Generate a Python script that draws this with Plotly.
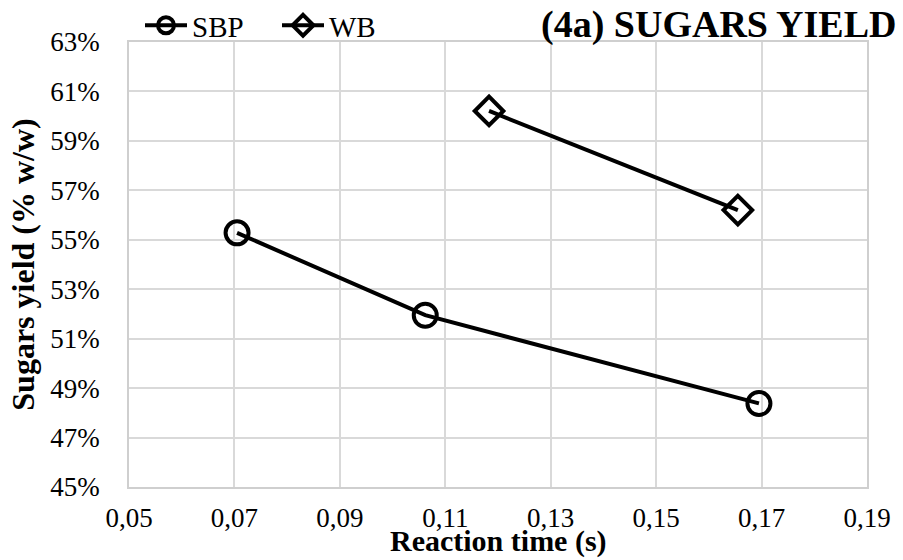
import plotly.graph_objects as go

# Reaction time (s) and sugars yield (fraction w/w) for each feedstock
sbp_time = [0.0705, 0.1062, 0.1695]
sbp_yield = [0.5528, 0.5195, 0.4838]
wb_time = [0.1183, 0.1655]
wb_yield = [0.6021, 0.5620]

x_ticks = [0.05, 0.07, 0.09, 0.11, 0.13, 0.15, 0.17, 0.19]
y_ticks = [0.45, 0.47, 0.49, 0.51, 0.53, 0.55, 0.57, 0.59, 0.61, 0.63]

FONT = "Liberation Serif"
PLOT_H = 560 - 42 - 73
PLOT_W = 903 - 129 - 36

fig = go.Figure()
fig.add_trace(go.Scatter(
    x=sbp_time, y=sbp_yield, name="SBP", mode="lines+markers",
    line=dict(color="black", width=4),
    marker=dict(symbol="circle-open", size=23, color="black", line=dict(width=4)),
))
fig.add_trace(go.Scatter(
    x=wb_time, y=wb_yield, name="WB", mode="lines+markers",
    line=dict(color="black", width=4),
    marker=dict(symbol="diamond-open", size=22, color="black", line=dict(width=4)),
))

fig.update_layout(
    width=903, height=560,
    margin=dict(l=129, r=36, t=42, b=73, autoexpand=False),
    paper_bgcolor="white", plot_bgcolor="white",
    separators=", ",
    font=dict(family=FONT, color="black", size=27),
    showlegend=True,
    legend=dict(
        orientation="h", xref="container", yref="container",
        x=140 / 903, y=1.0, xanchor="left", yanchor="top",
        font=dict(family=FONT, size=29, color="black"),
        bgcolor="rgba(0,0,0,0)", itemwidth=42, tracegroupgap=0,
        entrywidth=80, entrywidthmode="pixels",
    ),
    annotations=[
        dict(
            text="<b>(4a) SUGARS YIELD</b>", xref="paper", yref="paper",
            x=(898 - 129) / PLOT_W, y=1 + (42 - 25) / PLOT_H,
            xanchor="right", yanchor="middle", showarrow=False,
            font=dict(family=FONT, size=38, color="black"),
        ),
        dict(
            text="<b>Reaction time (s)</b>", xref="paper", yref="paper",
            x=0.5, y=-(559 - 487) / PLOT_H,
            xanchor="center", yanchor="bottom", showarrow=False,
            borderpad=0,
            font=dict(family=FONT, size=30, color="black"),
        ),
    ],
)

fig.update_xaxes(
    range=[0.05, 0.19], tickvals=x_ticks, tickformat=".2f",
    showgrid=True, gridcolor="#d9d9d9", gridwidth=1.5,
    showline=True, linecolor="#cfcfcf", linewidth=1.5, mirror=True,
    zeroline=False, ticks="", ticklabelstandoff=6,
    tickfont=dict(family=FONT, size=27),
)
fig.update_yaxes(
    range=[0.45, 0.63], tickvals=y_ticks, tickformat=".0%",
    showgrid=True, gridcolor="#d9d9d9", gridwidth=1.5,
    showline=True, linecolor="#cfcfcf", linewidth=1.5, mirror=True,
    zeroline=False, ticks="", ticklabelstandoff=22,
    tickfont=dict(family=FONT, size=27),
    title=dict(text="<b>Sugars yield (% w/w)</b>", standoff=6,
               font=dict(family=FONT, size=32)),
)

fig.write_html("out.html")
